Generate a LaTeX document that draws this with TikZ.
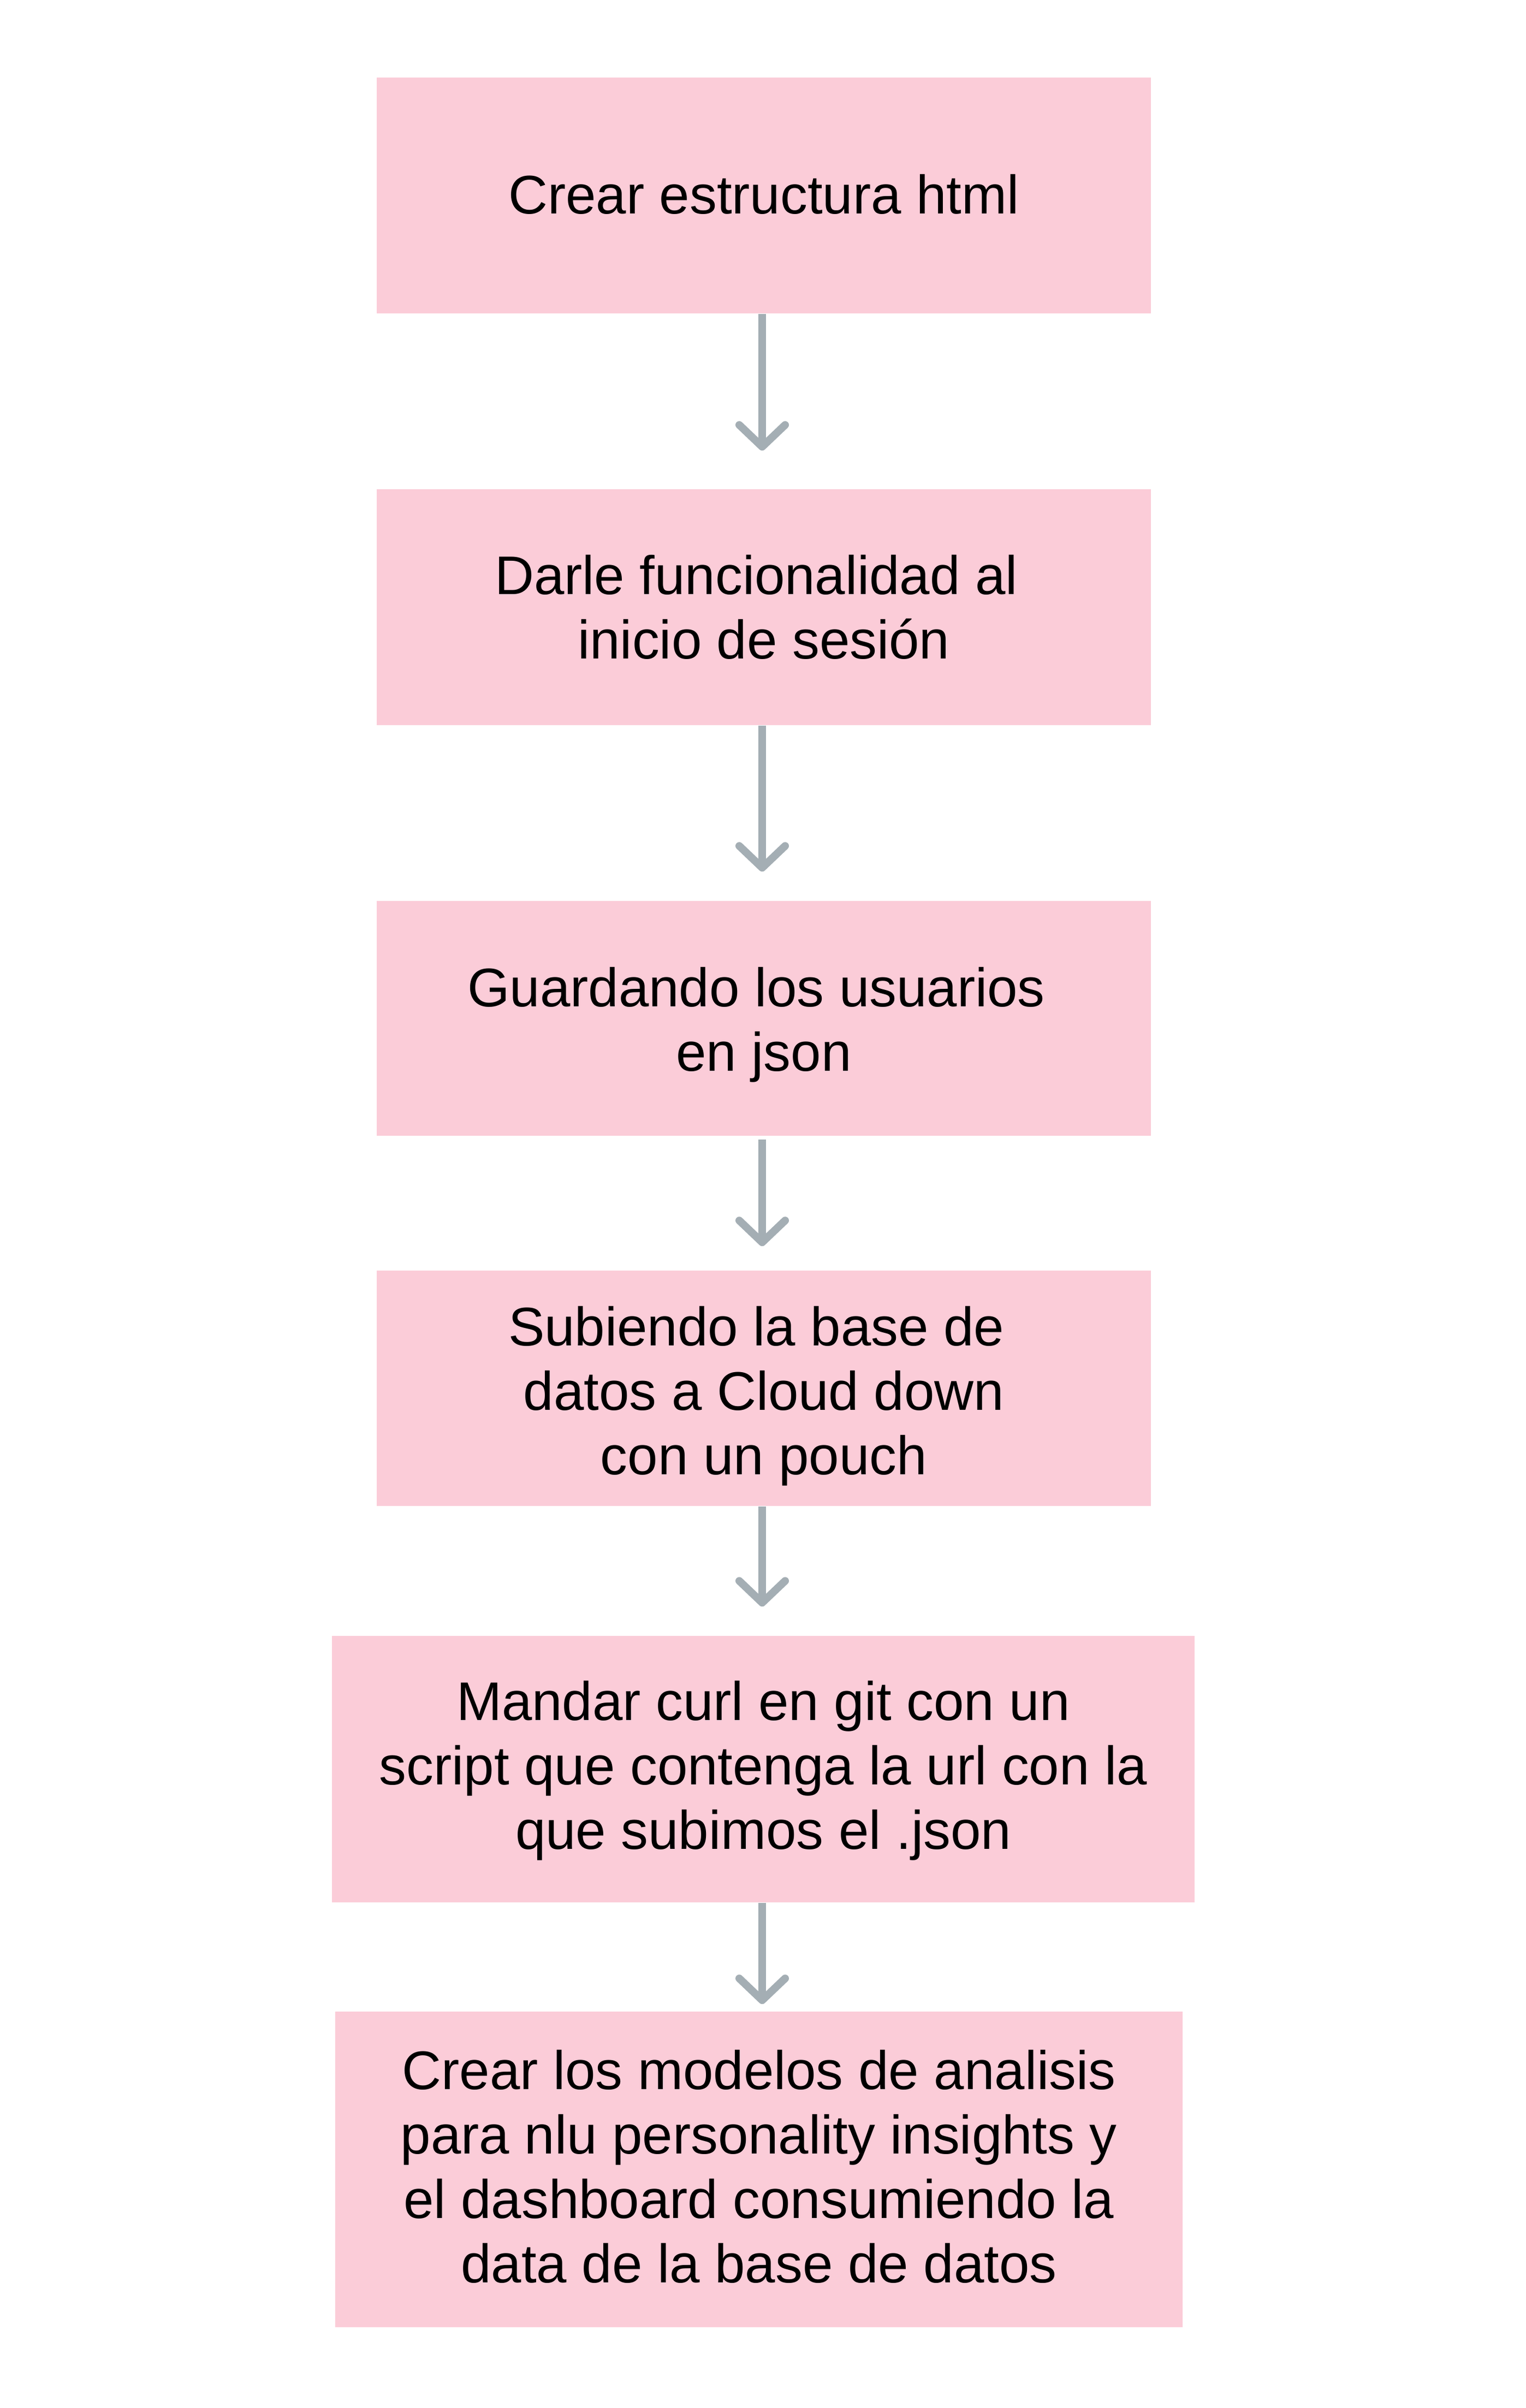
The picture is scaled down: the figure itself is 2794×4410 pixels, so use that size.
\documentclass[tikz,border=0pt]{standalone}
\usepackage{fontspec}
\setmainfont{Liberation Sans}
\usetikzlibrary{arrows.meta}
\definecolor{boxpink}{RGB}{251,204,216}
\definecolor{arrowgray}{RGB}{164,174,180}
\newcommand{\tsp}{\hspace*{0.278em}}
\begin{document}
\begin{tikzpicture}[x=0.25pt,y=-0.25pt,
  stepbox/.style={rectangle, fill=boxpink, inner sep=0pt, align=center,
    font=\fontsize{24.9}{29.5}\selectfont, text=black},
  steptext/.style={inner sep=0pt, align=center,
    font=\fontsize{24.9}{29.5}\selectfont, text=black},
  flow/.style={draw=arrowgray, line width=3.5pt,
    -{Straight Barb[length=10pt,width=21pt,round]}}]
\useasboundingbox (0,0) rectangle (2794,4410);
\fill[white] (0,0) rectangle (2794,4410);
\coordinate (ax) at (1396,0);
\node[stepbox, minimum width=354.5pt, minimum height=108pt] (b1) at (1399,358) {};
\node[steptext] (t1) at ([yshift=0.6pt]b1.center) {Crear estructura html};
\node[stepbox, minimum width=354.5pt, minimum height=108pt] (b2) at (1399,1112)
  {Darle funcionalidad al\tsp\\inicio de sesión};
\node[stepbox, minimum width=354.5pt, minimum height=107.5pt] (b3) at (1399,1865) {};
\node[steptext] (t3) at ([yshift=-3pt]b3.center) {Guardando los usuarios\tsp\\en json};
\node[stepbox, minimum width=354.5pt, minimum height=107.75pt] (b4) at (1399,2542.5) {};
\node[steptext] (t4) at ([yshift=-3.6pt]b4.center) {Subiendo la base de\tsp\\datos a Cloud down\\con un pouch};
\node[stepbox, minimum width=395pt, minimum height=122pt] (b5) at (1398,3240) {};
\node[steptext] (t5) at ([yshift=-0.7pt]b5.center)
  {Mandar curl en git con un\\script que contenga la url con la\tsp\\que subimos el .json};
\node[stepbox, minimum width=388pt, minimum height=144.5pt] (b6) at (1390,3973) {};
\node[steptext] (t6) at ([yshift=1.2pt]b6.center)
  {Crear los modelos de analisis\\para nlu personality insights y\tsp\\el dashboard consumiendo la\tsp\\data de la base de datos};
\draw[flow, shorten >=17.5pt] (b1.south -| ax) -- (b2.north -| ax);
\draw[flow, shorten >=13.25pt] (b2.south -| ax) -- (b3.north -| ax);
\draw[flow, shorten <=1.5pt, shorten >=11pt] (b3.south -| ax) -- (b4.north -| ax);
\draw[flow, shorten >=13.25pt] (b4.south -| ax) -- (b5.north -| ax);
\draw[flow, shorten >=3.25pt] (b5.south -| ax) -- (b6.north -| ax);
\end{tikzpicture}
\end{document}
